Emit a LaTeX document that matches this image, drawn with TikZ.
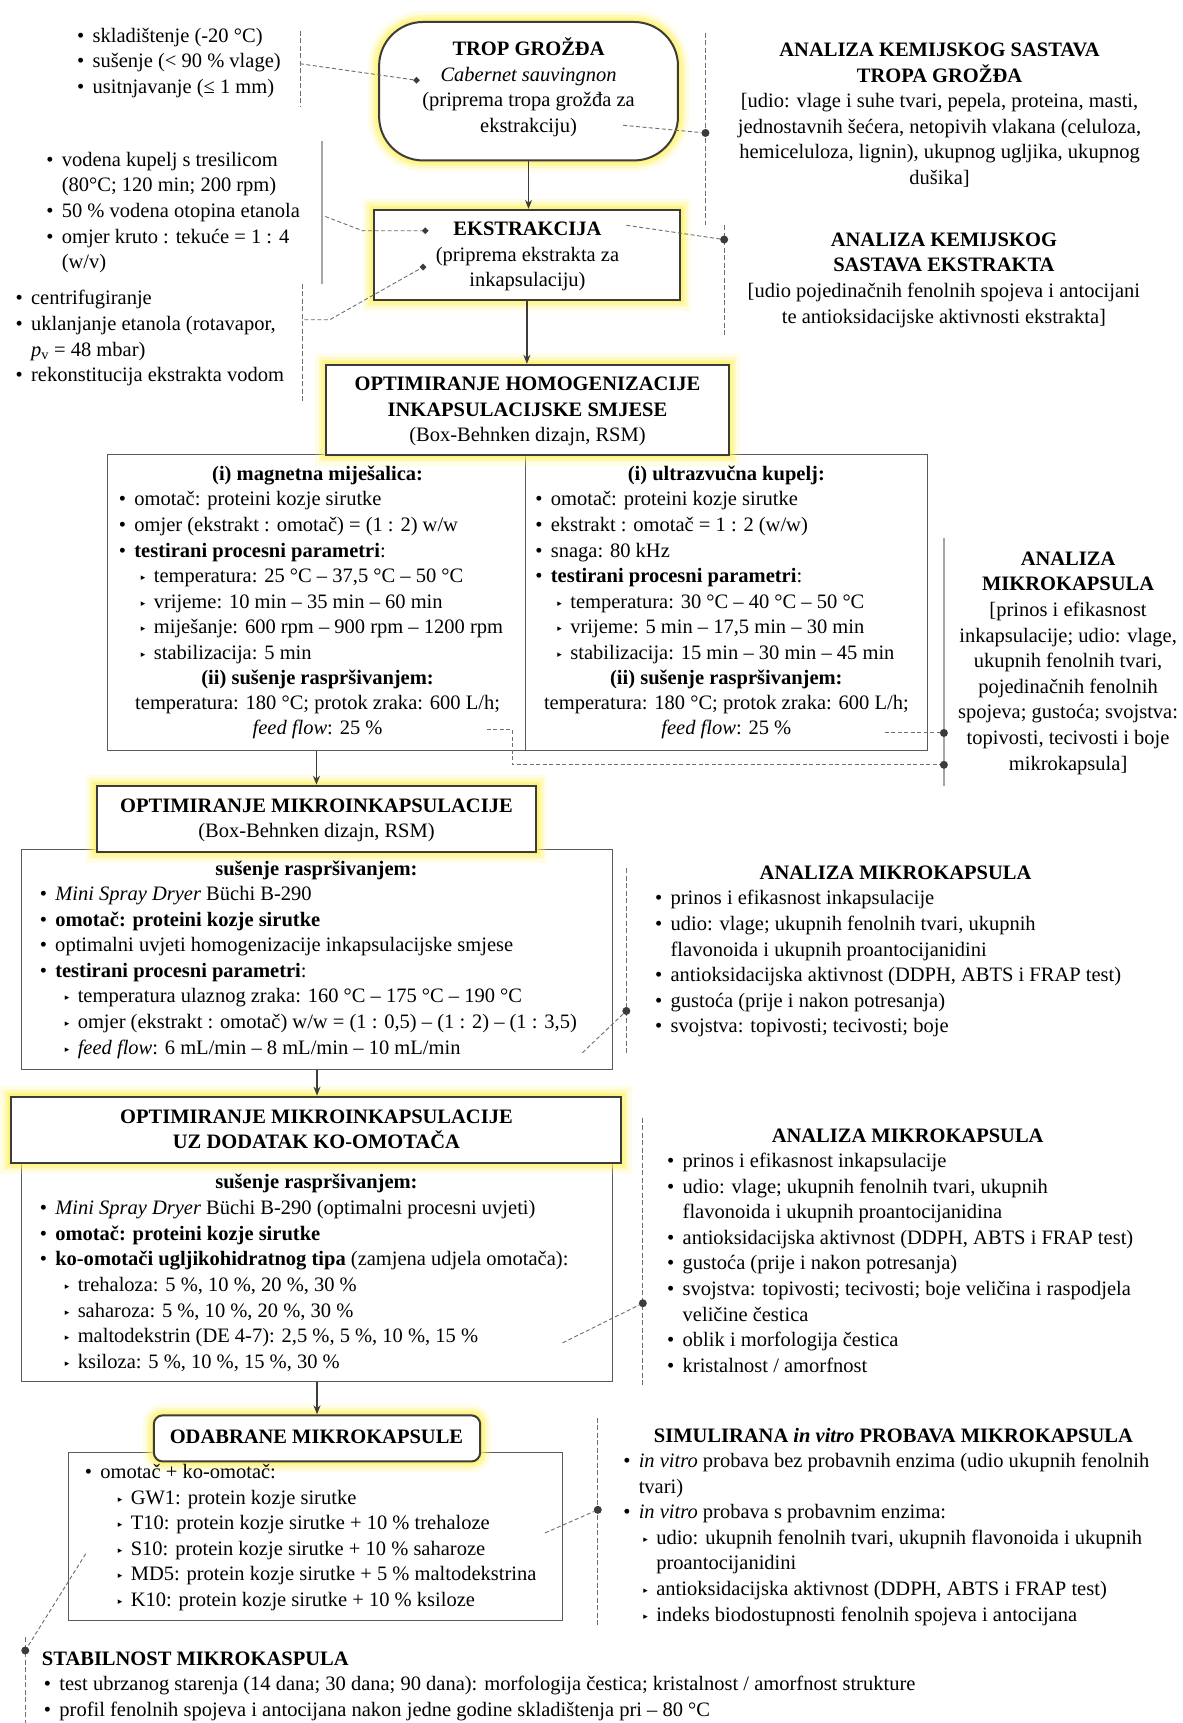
\documentclass[tikz,border=0pt]{standalone}
\usepackage{fontspec}
\setmainfont{Liberation Serif}
\newfontfamily\dejavu{DejaVu Sans}
\usetikzlibrary{arrows.meta,shapes.geometric,fit}
\definecolor{glowc}{RGB}{255,243,90}
\definecolor{bord}{RGB}{60,60,60}
\definecolor{thinc}{RGB}{90,90,90}
\definecolor{dashc}{RGB}{110,110,110}
\newcommand\fs{\fontsize{20.5}{25.6}\selectfont}
\newcommand\st{\strut}
\newcommand\bu{\strut\makebox[15.5pt][l]{\textbullet}}
\newcommand\tri{\raisebox{2pt}{\dejavu\fontsize{9}{9}\selectfont ▸}}
\newcommand\subb[1]{\strut\hspace*{#1}\makebox[13pt][l]{\tri}}
\newcommand\ind[1]{\strut\hspace*{#1}}
\tikzset{
 txt/.style={inner sep=0pt, font=\fs, text=black},
 blk/.style={txt, anchor=north west, align=left},
 ctr/.style={txt, align=center},
 glowing/.style={preaction={draw=glowc, line width=22pt, draw opacity=0.15},
                 preaction={draw=glowc, line width=15pt, draw opacity=0.25},
                 preaction={draw=glowc, line width=10pt, draw opacity=0.35},
                 preaction={draw=glowc, line width=5pt, draw opacity=0.5}},
 mainbox/.style={draw=bord, line width=2pt, fill=white, inner sep=0pt, glowing},
 subbox/.style={draw=thinc, line width=1pt, fill=white, inner sep=0pt},
 flow/.style={draw=bord, line width=1.4pt, -{Stealth[length=9pt,width=7pt]}},
 dline/.style={draw=dashc, line width=0.9pt, dash pattern=on 4pt off 2.5pt},
 sepline/.style={draw=dashc, line width=0.9pt, dash pattern=on 5pt off 2.5pt},
 solidsep/.style={draw=gray!70, line width=1.2pt},
 dot/.style={circle, fill=bord, inner sep=0pt, minimum size=8pt},
 dia/.style={diamond, fill=bord, inner sep=0pt, minimum size=7pt},
}
\begin{document}
\begin{tikzpicture}[x=1.0985pt,y=-1.0985pt]
\useasboundingbox (0,0) rectangle (1076,1568);
\fill[white] (0,0) rectangle (1076,1568);

% content boxes
\node[subbox, fit={(98,414)(844,683)}] (big) {};
\node[subbox, fit={(20,773)(557,973)}] (box2) {};
\node[subbox, fit={(20,1058)(557,1257)}] (box3) {};
\node[subbox, fit={(62,1322)(512,1475)}] (box4) {};
\draw[draw=thinc,line width=1pt] (478,414) -- (478,683);

% main boxes
\node[mainbox, rounded corners=44pt, fit={(345,20)(617,146)}] (trop) {};
\node[mainbox, fit={(340,191)(619,273)}] (eks) {};
\node[mainbox, fit={(297,332)(663,414)}] (hom) {};
\node[mainbox, fit={(88,715)(488,775)}] (optm) {};
\node[mainbox, fit={(10,998)(565,1058)}] (ko) {};
\node[mainbox, rounded corners=9pt, fit={(140,1288)(437,1330)}] (odab) {};

% main box texts
\node[ctr] (tTrop) at (481,81) {\st\textbf{TROP GROŽĐA}\\\st\textit{Cabernet sauvingnon}\\\st(priprema tropa grožđa za\\\st ekstrakciju)};
\node[ctr] (tEks) at (480,233) {\st\textbf{EKSTRAKCIJA}\\\st(priprema ekstrakta za\\\st inkapsulaciju)};
\node[ctr] (tHom) at (480,374) {\st\textbf{OPTIMIRANJE HOMOGENIZACIJE}\\\st\textbf{INKAPSULACIJSKE SMJESE}\\\st(Box-Behnken dizajn, RSM)};
\node[ctr] (tOptm) at (288,746) {\st\textbf{OPTIMIRANJE MIKROINKAPSULACIJE}\\\st(Box-Behnken dizajn, RSM)};
\node[ctr] (tKo) at (288,1029) {\st\textbf{OPTIMIRANJE MIKROINKAPSULACIJE}\\\st\textbf{UZ DODATAK KO-OMOTAČA}};
\node[ctr] (tOdab) at (288,1309) {\st\textbf{ODABRANE MIKROKAPSULE}};

% left notes
\node[blk] (n1) at (70,21.9) {\bu skladištenje (-20 °C)\\\bu sušenje (< 90 \% vlage)\\\bu usitnjavanje (≤ 1 mm)};
\node[blk] (n2) at (42,134.9) {\bu vodena kupelj s tresilicom\\\ind{15.5pt}(80°C; 120 min; 200 rpm)\\\bu 50 \% vodena otopina etanola\\\bu omjer kruto : tekuće = 1 : 4\\\ind{15.5pt}(w/v)};
\node[blk] (n3) at (14,260.9) {\bu centrifugiranje\\\bu uklanjanje etanola (rotavapor,\\\ind{15.5pt}\textit{p}\textsubscript{v} = 48 mbar)\\\bu rekonstitucija ekstrakta vodom};

% right analyses (top)
\node[ctr] (a1) at (855,105) {\st\textbf{ANALIZA KEMIJSKOG SASTAVA}\\\st\textbf{TROPA GROŽĐA}\\\st[udio: vlage i suhe tvari, pepela, proteina, masti,\\\st jednostavnih šećera, netopivih vlakana (celuloza,\\\st hemiceluloza, lignin), ukupnog ugljika, ukupnog\\\st dušika]};
\node[ctr] (a2) at (859,254.5) {\st\textbf{ANALIZA KEMIJSKOG}\\\st\textbf{SASTAVA EKSTRAKTA}\\\st[udio pojedinačnih fenolnih spojeva i antocijani\\\st te antioksidacijske aktivnosti ekstrakta]};

% two-column box
\node[ctr] (h1) at (289,433) {\st\textbf{(i) magnetna miješalica:}};
\node[blk] (l1) at (108,443.9) {\bu omotač: proteini kozje sirutke\\\bu omjer (ekstrakt : omotač) = (1 : 2) w/w\\\bu \textbf{testirani procesni parametri}:\\\subb{22pt}temperatura: 25 °C – 37,5 °C – 50 °C\\\subb{22pt}vrijeme: 10 min – 35 min – 60 min\\\subb{22pt}miješanje: 600 rpm – 900 rpm – 1200 rpm\\\subb{22pt}stabilizacija: 5 min};
\node[ctr] (h2) at (289,618) {\st\textbf{(ii) sušenje raspršivanjem:}};
\node[ctr] (l2) at (289,652.5) {\st temperatura: 180 °C; protok zraka: 600 L/h;\\\st\textit{feed flow}: 25 \%};

\node[ctr] (h3) at (661,433) {\st\textbf{(i) ultrazvučna kupelj:}};
\node[blk] (r1) at (487,443.9) {\bu omotač: proteini kozje sirutke\\\bu ekstrakt : omotač = 1 : 2 (w/w)\\\bu snaga: 80 kHz\\\bu \textbf{testirani procesni parametri}:\\\subb{22pt}temperatura: 30 °C – 40 °C – 50 °C\\\subb{22pt}vrijeme: 5 min – 17,5 min – 30 min\\\subb{22pt}stabilizacija: 15 min – 30 min – 45 min};
\node[ctr] (h4) at (661,618) {\st\textbf{(ii) sušenje raspršivanjem:}};
\node[ctr] (r2) at (661,652.5) {\st temperatura: 180 °C; protok zraka: 600 L/h;\\\st\textit{feed flow}: 25 \%};

\node[ctr] (a3) at (972,603) {\st\textbf{ANALIZA}\\\st\textbf{MIKROKAPSULA}\\\st[prinos i efikasnost\\\st inkapsulacije; udio: vlage,\\\st ukupnih fenolnih tvari,\\\st pojedinačnih fenolnih\\\st spojeva; gustoća; svojstva:\\\st topivosti, tecivosti i boje\\\st mikrokapsula]};

% box2
\node[ctr] (h5) at (288,792) {\st\textbf{sušenje raspršivanjem:}};
\node[blk] (b2) at (36,802.9) {\bu \textit{Mini Spray Dryer} Büchi B-290\\\bu \textbf{omotač: proteini kozje sirutke}\\\bu optimalni uvjeti homogenizacije inkapsulacijske smjese\\\bu \textbf{testirani procesni parametri}:\\\subb{25pt}temperatura ulaznog zraka: 160 °C – 175 °C – 190 °C\\\subb{25pt}omjer (ekstrakt : omotač) w/w = (1 : 0,5) – (1 : 2) – (1 : 3,5)\\\subb{25pt}\textit{feed flow}: 6 mL/min – 8 mL/min – 10 mL/min};
\node[ctr] (h6) at (815,796) {\st\textbf{ANALIZA MIKROKAPSULA}};
\node[blk] (a4) at (596,806.9) {\bu prinos i efikasnost inkapsulacije\\\bu udio: vlage; ukupnih fenolnih tvari, ukupnih\\\ind{15.5pt}flavonoida i ukupnih proantocijanidini\\\bu antioksidacijska aktivnost (DDPH, ABTS i FRAP test)\\\bu gustoća (prije i nakon potresanja)\\\bu svojstva: topivosti; tecivosti; boje};

% box3
\node[ctr] (h7) at (288,1077) {\st\textbf{sušenje raspršivanjem:}};
\node[blk] (b3) at (36,1088.9) {\bu \textit{Mini Spray Dryer} Büchi B-290 (optimalni procesni uvjeti)\\\bu \textbf{omotač: proteini kozje sirutke}\\\bu \textbf{ko-omotači ugljikohidratnog tipa} (zamjena udjela omotača):\\\subb{25pt}trehaloza: 5 \%, 10 \%, 20 \%, 30 \%\\\subb{25pt}saharoza: 5 \%, 10 \%, 20 \%, 30 \%\\\subb{25pt}maltodekstrin (DE 4-7): 2,5 \%, 5 \%, 10 \%, 15 \%\\\subb{25pt}ksiloza: 5 \%, 10 \%, 15 \%, 30 \%};
\node[ctr] (h8) at (826,1035) {\st\textbf{ANALIZA MIKROKAPSULA}};
\node[blk] (a5) at (607,1045.9) {\bu prinos i efikasnost inkapsulacije\\\bu udio: vlage; ukupnih fenolnih tvari, ukupnih\\\ind{15.5pt}flavonoida i ukupnih proantocijanidina\\\bu antioksidacijska aktivnost (DDPH, ABTS i FRAP test)\\\bu gustoća (prije i nakon potresanja)\\\bu svojstva: topivosti; tecivosti; boje veličina i raspodjela\\\ind{15.5pt}veličine čestica\\\bu oblik i morfologija čestica\\\bu kristalnost / amorfnost};

% box4
\node[blk] (b4) at (77,1328.9) {\bu omotač + ko-omotač:\\\subb{33pt}GW1: protein kozje sirutke\\\subb{33pt}T10: protein kozje sirutke + 10 \% trehaloze\\\subb{33pt}S10: protein kozje sirutke + 10 \% saharoze\\\subb{33pt}MD5: protein kozje sirutke + 5 \% maltodekstrina\\\subb{33pt}K10: protein kozje sirutke + 10 \% ksiloze};
\node[ctr] (h9) at (813,1308) {\st\textbf{SIMULIRANA \textit{in vitro} PROBAVA MIKROKAPSULA}};
\node[blk] (a6) at (567,1318.9) {\bu \textit{in vitro} probava bez probavnih enzima (udio ukupnih fenolnih\\\ind{15.5pt}tvari)\\\bu \textit{in vitro} probava s probavnim enzima:\\\subb{20pt}udio: ukupnih fenolnih tvari, ukupnih flavonoida i ukupnih\\\ind{33pt}proantocijanidini\\\subb{20pt}antioksidacijska aktivnost (DDPH, ABTS i FRAP test)\\\subb{20pt}indeks biodostupnosti fenolnih spojeva i antocijana};

% stability
\node[blk] (s1) at (38,1498.9) {\st\textbf{STABILNOST MIKROKASPULA}\\\ind{2pt}\bu test ubrzanog starenja (14 dana; 30 dana; 90 dana): morfologija čestica; kristalnost / amorfnost strukture\\\ind{2pt}\bu profil fenolnih spojeva i antocijana nakon jedne godine skladištenja pri – 80 °C};

% flow arrows
\draw[flow] (trop.south) -- (trop.south |- eks.north);
\draw[flow] (eks.south) -- (eks.south |- hom.north);
\draw[flow] (optm.north |- big.south) -- (optm.north);
\draw[flow] (box2.south) -- (box2.south |- ko.north);
\draw[flow] (box3.south) -- (box3.south |- odab.north);

% side connectors
\draw[sepline] (273,28) -- (273,97);
\node[dia] (d1) at (379,73) {};
\coordinate (c1) at (273,58);
\draw[dline] (c1) -- (d1);

\draw[sepline] (642,30) -- (642,205);
\node[dot] (p1) at (642,121) {};
\coordinate (c2) at (567,114);
\draw[dline] (c2) -- (p1);

\draw[solidsep] (293,128) -- (293,258);
\node[dia] (d2) at (387,210) {};
\coordinate (c3) at (296,197);
\draw[dline] (c3) -- (330,210) -- (d2);

\draw[sepline] (275,258) -- (275,365);
\node[dia] (d3) at (385,243) {};
\coordinate (c4) at (277,291);
\draw[dline] (c4) -- (300,291) -- (d3);

\draw[sepline] (659,205) -- (659,305);
\node[dot] (p2) at (659,218) {};
\coordinate (c5) at (570,205);
\draw[dline] (c5) -- (p2);

\draw[solidsep] (859,490) -- (859,715);
\node[dot] (p3) at (859,667) {};
\node[dot] (p4) at (859,696) {};
\coordinate (c6) at (805,667);
\draw[dline] (c6) -- (p3);
\coordinate (c7) at (443,664);
\draw[dline] (c7) -- (466,664) -- (466,696) -- (p4);

\draw[sepline] (570,790) -- (570,960);
\node[dot] (p5) at (570,920) {};
\coordinate (c8) at (530,958);
\draw[dline] (c8) -- (p5);

\draw[sepline] (585,1017) -- (585,1260);
\node[dot] (p6) at (585,1186) {};
\coordinate (c9) at (512,1222);
\draw[dline] (c9) -- (p6);

\draw[sepline] (544,1290) -- (544,1480);
\node[dot] (p7) at (544,1374) {};
\coordinate (c10) at (496,1395);
\draw[dline] (c10) -- (p7);

\draw[sepline] (23,1490) -- (23,1568);
\node[dot] (p8) at (23,1502) {};
\coordinate (c11) at (78,1414);
\draw[dline] (c11) -- (p8);
\end{tikzpicture}
\end{document}
